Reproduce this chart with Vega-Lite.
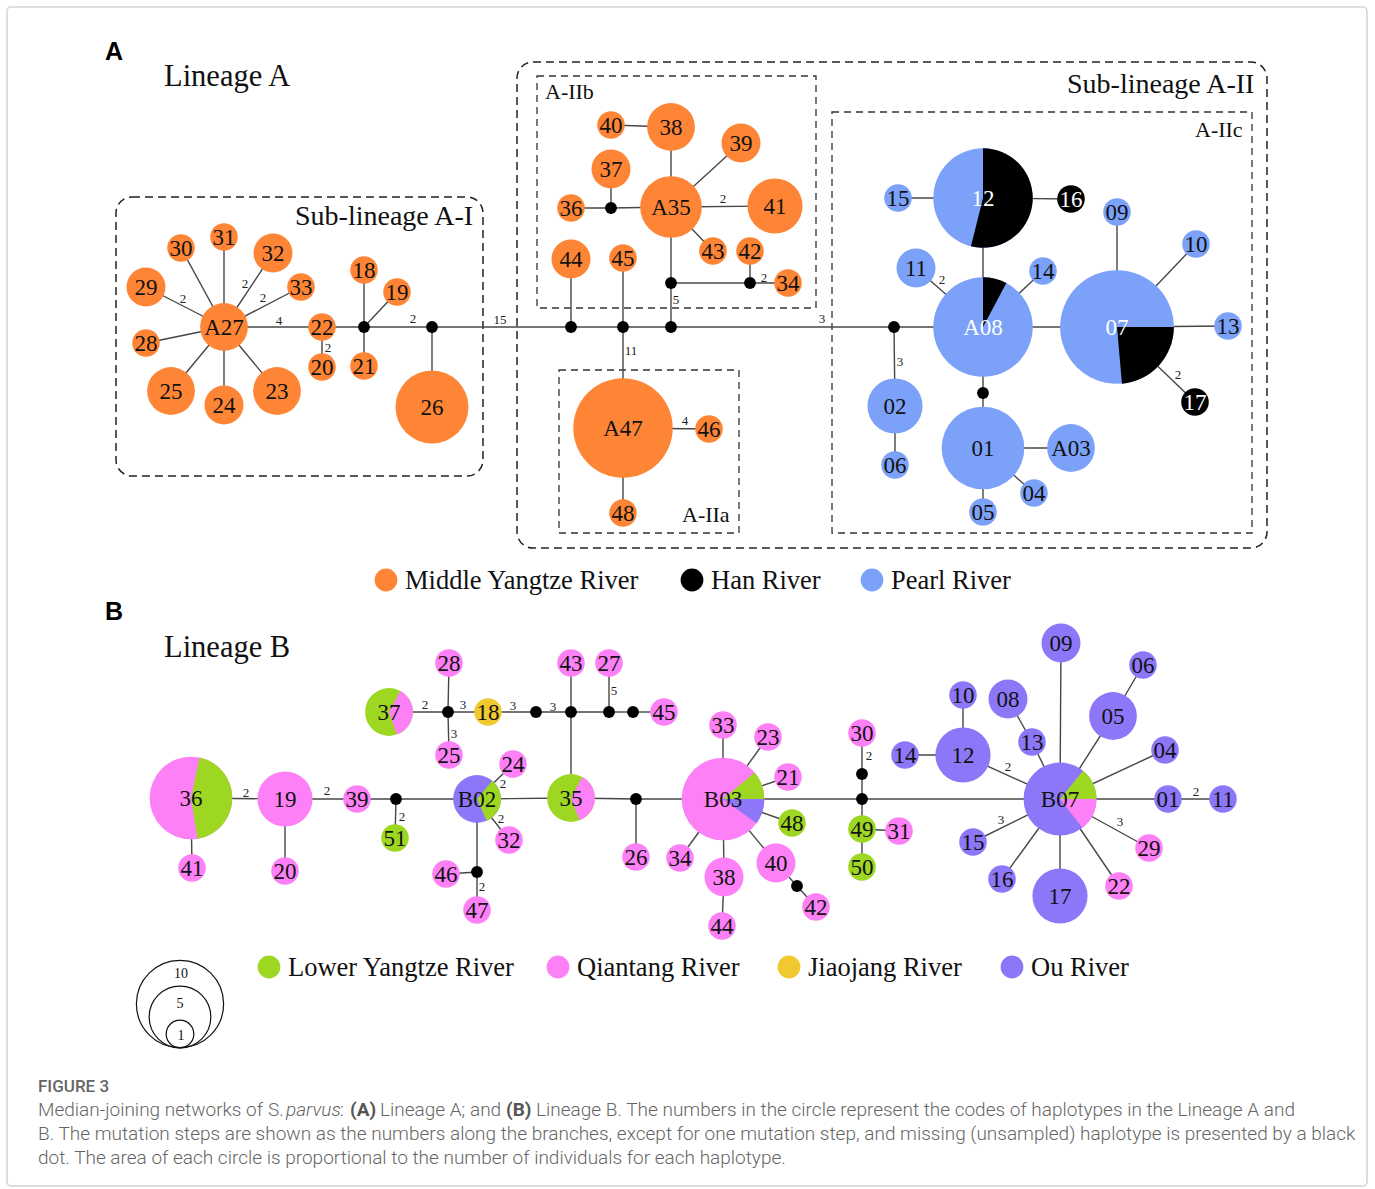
{
  "$schema": "https://vega.github.io/schema/vega-lite/v6.json",
  "width": 1375,
  "height": 1189,
  "padding": 0,
  "autosize": {"type": "fit", "contains": "padding"},
  "background": "white",
  "config": {"view": {"stroke": null}},
  "datasets": {
    "points": [
      {"id":"a27","label":"A27","x":224,"y":327,"n":3,"river":"Middle Yangtze River","kind":"hap"},
      {"id":"a31","label":"31","x":224,"y":237,"n":1,"river":"Middle Yangtze River","kind":"hap"},
      {"id":"a30","label":"30","x":181,"y":248,"n":1,"river":"Middle Yangtze River","kind":"hap"},
      {"id":"a32","label":"32","x":273,"y":253,"n":2,"river":"Middle Yangtze River","kind":"hap"},
      {"id":"a33","label":"33","x":301,"y":287,"n":1,"river":"Middle Yangtze River","kind":"hap"},
      {"id":"a29","label":"29","x":146,"y":287,"n":2,"river":"Middle Yangtze River","kind":"hap"},
      {"id":"a28","label":"28","x":146,"y":343,"n":1,"river":"Middle Yangtze River","kind":"hap"},
      {"id":"a25","label":"25","x":171,"y":391,"n":3,"river":"Middle Yangtze River","kind":"hap"},
      {"id":"a24","label":"24","x":224,"y":405,"n":2,"river":"Middle Yangtze River","kind":"hap"},
      {"id":"a23","label":"23","x":277,"y":391,"n":3,"river":"Middle Yangtze River","kind":"hap"},
      {"id":"a22","label":"22","x":322,"y":327,"n":1,"river":"Middle Yangtze River","kind":"hap"},
      {"id":"a20","label":"20","x":322,"y":367,"n":1,"river":"Middle Yangtze River","kind":"hap"},
      {"id":"a18","label":"18","x":364,"y":270,"n":1,"river":"Middle Yangtze River","kind":"hap"},
      {"id":"a19","label":"19","x":397,"y":292,"n":1,"river":"Middle Yangtze River","kind":"hap"},
      {"id":"a21","label":"21","x":364,"y":366,"n":1,"river":"Middle Yangtze River","kind":"hap"},
      {"id":"a26","label":"26","x":432,"y":407,"n":7,"river":"Middle Yangtze River","kind":"hap"},
      {"id":"a35","label":"A35","x":671,"y":207,"n":5,"river":"Middle Yangtze River","kind":"hap"},
      {"id":"a38","label":"38","x":671,"y":127,"n":3,"river":"Middle Yangtze River","kind":"hap"},
      {"id":"a40","label":"40","x":611,"y":125,"n":1,"river":"Middle Yangtze River","kind":"hap"},
      {"id":"a39","label":"39","x":741,"y":143,"n":2,"river":"Middle Yangtze River","kind":"hap"},
      {"id":"a37","label":"37","x":611,"y":169,"n":2,"river":"Middle Yangtze River","kind":"hap"},
      {"id":"a36","label":"36","x":571,"y":208,"n":1,"river":"Middle Yangtze River","kind":"hap"},
      {"id":"a41","label":"41","x":775,"y":206,"n":4,"river":"Middle Yangtze River","kind":"hap"},
      {"id":"a43","label":"43","x":713,"y":251,"n":1,"river":"Middle Yangtze River","kind":"hap"},
      {"id":"a42","label":"42","x":750,"y":251,"n":1,"river":"Middle Yangtze River","kind":"hap"},
      {"id":"a34","label":"34","x":788,"y":283,"n":1,"river":"Middle Yangtze River","kind":"hap"},
      {"id":"a44","label":"44","x":571,"y":259,"n":2,"river":"Middle Yangtze River","kind":"hap"},
      {"id":"a45","label":"45","x":623,"y":258,"n":1,"river":"Middle Yangtze River","kind":"hap"},
      {"id":"a47","label":"A47","x":623,"y":428,"n":13,"river":"Middle Yangtze River","kind":"hap"},
      {"id":"a46","label":"46","x":709,"y":429,"n":1,"river":"Middle Yangtze River","kind":"hap"},
      {"id":"a48","label":"48","x":623,"y":513,"n":1,"river":"Middle Yangtze River","kind":"hap"},
      {"id":"a12","label":"12","x":983,"y":198,"n":13,"river":"Pearl River","kind":"hap"},
      {"id":"a15","label":"15","x":898,"y":198,"n":1,"river":"Pearl River","kind":"hap"},
      {"id":"a16","label":"16","x":1071,"y":199,"n":1,"river":"Han River","kind":"hap"},
      {"id":"a08","label":"A08","x":983,"y":327,"n":13,"river":"Pearl River","kind":"hap"},
      {"id":"a11","label":"11","x":916,"y":268,"n":2,"river":"Pearl River","kind":"hap"},
      {"id":"a14","label":"14","x":1043,"y":271,"n":1,"river":"Pearl River","kind":"hap"},
      {"id":"a02","label":"02","x":895,"y":406,"n":4,"river":"Pearl River","kind":"hap"},
      {"id":"a06","label":"06","x":895,"y":465,"n":1,"river":"Pearl River","kind":"hap"},
      {"id":"a01","label":"01","x":983,"y":448,"n":9,"river":"Pearl River","kind":"hap"},
      {"id":"aA03","label":"A03","x":1071,"y":448,"n":3,"river":"Pearl River","kind":"hap"},
      {"id":"a04","label":"04","x":1034,"y":493,"n":1,"river":"Pearl River","kind":"hap"},
      {"id":"a05","label":"05","x":983,"y":512,"n":1,"river":"Pearl River","kind":"hap"},
      {"id":"a07","label":"07","x":1117,"y":327,"n":17,"river":"Pearl River","kind":"hap"},
      {"id":"a09","label":"09","x":1117,"y":212,"n":1,"river":"Pearl River","kind":"hap"},
      {"id":"a10","label":"10","x":1196,"y":244,"n":1,"river":"Pearl River","kind":"hap"},
      {"id":"a13","label":"13","x":1228,"y":326,"n":1,"river":"Pearl River","kind":"hap"},
      {"id":"a17","label":"17","x":1195,"y":402,"n":1,"river":"Han River","kind":"hap"},
      {"id":"am1","x":364,"y":327,"kind":"median"},
      {"id":"am2","x":432,"y":327,"kind":"median"},
      {"id":"am3","x":611,"y":208,"kind":"median"},
      {"id":"am4","x":671,"y":283,"kind":"median"},
      {"id":"am5","x":750,"y":283,"kind":"median"},
      {"id":"am6","x":571,"y":327,"kind":"median"},
      {"id":"am7","x":623,"y":327,"kind":"median"},
      {"id":"am8","x":671,"y":327,"kind":"median"},
      {"id":"am9","x":894,"y":327,"kind":"median"},
      {"id":"am10","x":983,"y":393,"kind":"median"},
      {"id":"b36","label":"36","x":191,"y":798,"n":9,"river":"Qiantang River","kind":"hap"},
      {"id":"b41","label":"41","x":192,"y":868,"n":1,"river":"Qiantang River","kind":"hap"},
      {"id":"b19","label":"19","x":285,"y":799,"n":4,"river":"Qiantang River","kind":"hap"},
      {"id":"b20","label":"20","x":285,"y":871,"n":1,"river":"Qiantang River","kind":"hap"},
      {"id":"b39","label":"39","x":357,"y":799,"n":1,"river":"Qiantang River","kind":"hap"},
      {"id":"b51","label":"51","x":395,"y":838,"n":1,"river":"Lower Yangtze River","kind":"hap"},
      {"id":"b37","label":"37","x":389,"y":712,"n":3,"river":"Lower Yangtze River","kind":"hap"},
      {"id":"b28","label":"28","x":449,"y":663,"n":1,"river":"Qiantang River","kind":"hap"},
      {"id":"b25","label":"25","x":449,"y":755,"n":1,"river":"Qiantang River","kind":"hap"},
      {"id":"b18","label":"18","x":488,"y":712,"n":1,"river":"Jiaojang River","kind":"hap"},
      {"id":"bB02","label":"B02","x":477,"y":799,"n":3,"river":"Ou River","kind":"hap"},
      {"id":"b24","label":"24","x":513,"y":764,"n":1,"river":"Qiantang River","kind":"hap"},
      {"id":"b32","label":"32","x":509,"y":840,"n":1,"river":"Qiantang River","kind":"hap"},
      {"id":"b46","label":"46","x":446,"y":874,"n":1,"river":"Qiantang River","kind":"hap"},
      {"id":"b47","label":"47","x":477,"y":910,"n":1,"river":"Qiantang River","kind":"hap"},
      {"id":"b35","label":"35","x":571,"y":798,"n":3,"river":"Lower Yangtze River","kind":"hap"},
      {"id":"b43","label":"43","x":571,"y":663,"n":1,"river":"Qiantang River","kind":"hap"},
      {"id":"b27","label":"27","x":609,"y":663,"n":1,"river":"Qiantang River","kind":"hap"},
      {"id":"b45","label":"45","x":664,"y":712,"n":1,"river":"Qiantang River","kind":"hap"},
      {"id":"b26","label":"26","x":636,"y":857,"n":1,"river":"Qiantang River","kind":"hap"},
      {"id":"bB03","label":"B03","x":723,"y":799,"n":9,"river":"Qiantang River","kind":"hap"},
      {"id":"b33","label":"33","x":723,"y":725,"n":1,"river":"Qiantang River","kind":"hap"},
      {"id":"b23","label":"23","x":768,"y":737,"n":1,"river":"Qiantang River","kind":"hap"},
      {"id":"b21","label":"21","x":788,"y":777,"n":1,"river":"Qiantang River","kind":"hap"},
      {"id":"b48","label":"48","x":792,"y":823,"n":1,"river":"Lower Yangtze River","kind":"hap"},
      {"id":"b40","label":"40","x":776,"y":863,"n":2,"river":"Qiantang River","kind":"hap"},
      {"id":"b42","label":"42","x":816,"y":907,"n":1,"river":"Qiantang River","kind":"hap"},
      {"id":"b38","label":"38","x":724,"y":877,"n":2,"river":"Qiantang River","kind":"hap"},
      {"id":"b44","label":"44","x":722,"y":926,"n":1,"river":"Qiantang River","kind":"hap"},
      {"id":"b34","label":"34","x":680,"y":858,"n":1,"river":"Qiantang River","kind":"hap"},
      {"id":"b30","label":"30","x":862,"y":733,"n":1,"river":"Qiantang River","kind":"hap"},
      {"id":"b49","label":"49","x":862,"y":829,"n":1,"river":"Lower Yangtze River","kind":"hap"},
      {"id":"b31","label":"31","x":899,"y":831,"n":1,"river":"Qiantang River","kind":"hap"},
      {"id":"b50","label":"50","x":862,"y":867,"n":1,"river":"Lower Yangtze River","kind":"hap"},
      {"id":"bB07","label":"B07","x":1060,"y":799,"n":7,"river":"Ou River","kind":"hap"},
      {"id":"b09","label":"09","x":1061,"y":643,"n":2,"river":"Ou River","kind":"hap"},
      {"id":"b06","label":"06","x":1143,"y":665,"n":1,"river":"Ou River","kind":"hap"},
      {"id":"b05","label":"05","x":1113,"y":716,"n":3,"river":"Ou River","kind":"hap"},
      {"id":"b04","label":"04","x":1165,"y":750,"n":1,"river":"Ou River","kind":"hap"},
      {"id":"b01","label":"01","x":1168,"y":799,"n":1,"river":"Ou River","kind":"hap"},
      {"id":"b11","label":"11","x":1223,"y":799,"n":1,"river":"Ou River","kind":"hap"},
      {"id":"b29","label":"29","x":1149,"y":848,"n":1,"river":"Qiantang River","kind":"hap"},
      {"id":"b22","label":"22","x":1119,"y":886,"n":1,"river":"Qiantang River","kind":"hap"},
      {"id":"b17","label":"17","x":1060,"y":896,"n":4,"river":"Ou River","kind":"hap"},
      {"id":"b16","label":"16","x":1002,"y":879,"n":1,"river":"Ou River","kind":"hap"},
      {"id":"b15","label":"15","x":973,"y":842,"n":1,"river":"Ou River","kind":"hap"},
      {"id":"b12","label":"12","x":963,"y":755,"n":4,"river":"Ou River","kind":"hap"},
      {"id":"b10","label":"10","x":963,"y":695,"n":1,"river":"Ou River","kind":"hap"},
      {"id":"b14","label":"14","x":905,"y":755,"n":1,"river":"Ou River","kind":"hap"},
      {"id":"b08","label":"08","x":1008,"y":699,"n":2,"river":"Ou River","kind":"hap"},
      {"id":"b13","label":"13","x":1032,"y":742,"n":1,"river":"Ou River","kind":"hap"},
      {"id":"bm1","x":448,"y":712,"kind":"median"},
      {"id":"bm2","x":536,"y":712,"kind":"median"},
      {"id":"bm3","x":396,"y":799,"kind":"median"},
      {"id":"bm4","x":477,"y":872,"kind":"median"},
      {"id":"bm5","x":571,"y":712,"kind":"median"},
      {"id":"bm6","x":609,"y":712,"kind":"median"},
      {"id":"bm7","x":633,"y":712,"kind":"median"},
      {"id":"bm8","x":636,"y":799,"kind":"median"},
      {"id":"bm9","x":797,"y":886,"kind":"median"},
      {"id":"bm10","x":862,"y":799,"kind":"median"},
      {"id":"bm11","x":862,"y":774,"kind":"median"}
    ],
    "edges": [
      {"from":"a27","to":"a31"},{"from":"a27","to":"a30"},{"from":"a27","to":"a32"},{"from":"a27","to":"a33"},
      {"from":"a27","to":"a29"},{"from":"a27","to":"a28"},{"from":"a27","to":"a25"},{"from":"a27","to":"a24"},
      {"from":"a27","to":"a23"},{"from":"a27","to":"a22"},{"from":"a22","to":"a20"},{"from":"a22","to":"am1"},
      {"from":"am1","to":"a18"},{"from":"am1","to":"a19"},{"from":"am1","to":"a21"},{"from":"am1","to":"am2"},
      {"from":"am2","to":"a26"},{"from":"am2","to":"am6"},{"from":"am6","to":"a44"},{"from":"am6","to":"am7"},
      {"from":"am7","to":"a45"},{"from":"am7","to":"a47"},{"from":"am7","to":"am8"},{"from":"am8","to":"am4"},
      {"from":"am4","to":"a35"},{"from":"am4","to":"am5"},{"from":"am5","to":"a42"},{"from":"am5","to":"a34"},
      {"from":"a35","to":"a38"},{"from":"a38","to":"a40"},{"from":"a35","to":"a39"},{"from":"a35","to":"am3"},
      {"from":"am3","to":"a37"},{"from":"am3","to":"a36"},{"from":"a35","to":"a41"},{"from":"a35","to":"a43"},
      {"from":"a47","to":"a46"},{"from":"a47","to":"a48"},{"from":"am8","to":"am9"},{"from":"am9","to":"a02"},
      {"from":"a02","to":"a06"},{"from":"am9","to":"a08"},{"from":"a08","to":"a12"},{"from":"a12","to":"a15"},
      {"from":"a12","to":"a16"},{"from":"a08","to":"a11"},{"from":"a08","to":"a14"},{"from":"a08","to":"am10"},
      {"from":"am10","to":"a01"},{"from":"a01","to":"aA03"},{"from":"a01","to":"a04"},{"from":"a01","to":"a05"},
      {"from":"a08","to":"a07"},{"from":"a07","to":"a09"},{"from":"a07","to":"a10"},{"from":"a07","to":"a13"},
      {"from":"a07","to":"a17"},
      {"from":"b36","to":"b41"},{"from":"b36","to":"b19"},{"from":"b19","to":"b20"},{"from":"b19","to":"b39"},
      {"from":"b39","to":"bm3"},{"from":"bm3","to":"b51"},{"from":"bm3","to":"bB02"},{"from":"bB02","to":"b24"},
      {"from":"bB02","to":"b32"},{"from":"bB02","to":"bm4"},{"from":"bm4","to":"b46"},{"from":"bm4","to":"b47"},
      {"from":"bB02","to":"b35"},{"from":"b35","to":"bm5"},{"from":"bm5","to":"b43"},{"from":"bm5","to":"bm2"},
      {"from":"bm2","to":"b18"},{"from":"b18","to":"bm1"},{"from":"bm1","to":"b37"},{"from":"bm1","to":"b28"},
      {"from":"bm1","to":"b25"},{"from":"bm5","to":"bm6"},{"from":"bm6","to":"b27"},{"from":"bm6","to":"bm7"},
      {"from":"bm7","to":"b45"},{"from":"b35","to":"bm8"},{"from":"bm8","to":"b26"},{"from":"bm8","to":"bB03"},
      {"from":"bB03","to":"b33"},{"from":"bB03","to":"b23"},{"from":"bB03","to":"b21"},{"from":"bB03","to":"b48"},
      {"from":"bB03","to":"b40"},{"from":"b40","to":"bm9"},{"from":"bm9","to":"b42"},{"from":"bB03","to":"b38"},
      {"from":"b38","to":"b44"},{"from":"bB03","to":"b34"},{"from":"bB03","to":"bm10"},{"from":"bm10","to":"bm11"},
      {"from":"bm11","to":"b30"},{"from":"bm10","to":"b49"},{"from":"b49","to":"b31"},{"from":"b49","to":"b50"},
      {"from":"bm10","to":"bB07"},{"from":"bB07","to":"b12"},{"from":"b12","to":"b10"},{"from":"b12","to":"b14"},
      {"from":"bB07","to":"b13"},{"from":"b13","to":"b08"},{"from":"bB07","to":"b09"},{"from":"bB07","to":"b05"},
      {"from":"b05","to":"b06"},{"from":"bB07","to":"b04"},{"from":"bB07","to":"b01"},{"from":"b01","to":"b11"},
      {"from":"bB07","to":"b29"},{"from":"bB07","to":"b22"},{"from":"bB07","to":"b17"},{"from":"bB07","to":"b16"},
      {"from":"bB07","to":"b15"}
    ],
    "slices": [
      {"node":"a12","river":"Han River","a0":0,"a1":194},
      {"node":"a08","river":"Han River","a0":0,"a1":28},
      {"node":"a07","river":"Han River","a0":90,"a1":175},
      {"node":"b36","river":"Lower Yangtze River","a0":12,"a1":171},
      {"node":"b37","river":"Qiantang River","a0":28,"a1":161},
      {"node":"bB02","river":"Lower Yangtze River","a0":40,"a1":156},
      {"node":"b35","river":"Qiantang River","a0":28,"a1":159},
      {"node":"bB03","river":"Lower Yangtze River","a0":50,"a1":90},
      {"node":"bB03","river":"Ou River","a0":90,"a1":126},
      {"node":"bB07","river":"Lower Yangtze River","a0":39,"a1":90},
      {"node":"bB07","river":"Qiantang River","a0":90,"a1":142}
    ],
    "steps": [
      {"x":279,"y":321,"text":"4"},{"x":245,"y":284,"text":"2"},{"x":263,"y":298,"text":"2"},{"x":183,"y":299,"text":"2"},
      {"x":328,"y":348,"text":"2"},{"x":413,"y":319,"text":"2"},{"x":500,"y":320,"text":"15"},{"x":723,"y":199,"text":"2"},
      {"x":764,"y":278,"text":"2"},{"x":676,"y":300,"text":"5"},{"x":631,"y":351,"text":"11"},{"x":685,"y":421,"text":"4"},
      {"x":822,"y":319,"text":"3"},{"x":942,"y":280,"text":"2"},{"x":900,"y":362,"text":"3"},{"x":1178,"y":375,"text":"2"},
      {"x":425,"y":705,"text":"2"},{"x":463,"y":705,"text":"3"},{"x":454,"y":734,"text":"3"},{"x":513,"y":706,"text":"3"},
      {"x":553,"y":707,"text":"3"},{"x":246,"y":793,"text":"2"},{"x":327,"y":791,"text":"2"},{"x":402,"y":817,"text":"2"},
      {"x":503,"y":784,"text":"2"},{"x":501,"y":819,"text":"2"},{"x":482,"y":887,"text":"2"},{"x":614,"y":691,"text":"5"},
      {"x":869,"y":756,"text":"2"},{"x":1008,"y":767,"text":"2"},{"x":1196,"y":792,"text":"2"},{"x":1001,"y":820,"text":"3"},
      {"x":1120,"y":822,"text":"3"}
    ],
    "legend": [
      {"river":"Middle Yangtze River","x":386,"y":580},
      {"river":"Han River","x":692,"y":580},
      {"river":"Pearl River","x":872,"y":580},
      {"river":"Lower Yangtze River","x":269,"y":967},
      {"river":"Qiantang River","x":558,"y":967},
      {"river":"Jiaojang River","x":789,"y":967},
      {"river":"Ou River","x":1012,"y":967}
    ]
  },
  "encoding": {
    "x": {"field": "x", "type": "quantitative", "scale": {"domain": [0, 1375], "nice": false, "zero": false}, "axis": null},
    "y": {"field": "y", "type": "quantitative", "scale": {"domain": [0, 1189], "nice": false, "zero": false, "reverse": true}, "axis": null}
  },
  "layer": [
    {
      "data": {"values": [{"x": 7, "x2": 1367, "y": 7, "y2": 1186}]},
      "mark": {"type": "rect", "fill": null, "stroke": "#d4d4d4", "strokeWidth": 1.5, "cornerRadius": 4},
      "encoding": {"x2": {"field": "x2"}, "y2": {"field": "y2"}}
    },
    {
      "data": {"values": [
        {"box": "Sub-lineage A-I", "x": 116, "x2": 483, "y": 197, "y2": 476},
        {"box": "Sub-lineage A-II", "x": 517, "x2": 1267, "y": 62, "y2": 548}
      ]},
      "mark": {"type": "rect", "fill": null, "stroke": "#222222", "strokeWidth": 1.5, "strokeDash": [8, 5], "cornerRadius": 16},
      "encoding": {"x2": {"field": "x2"}, "y2": {"field": "y2"}}
    },
    {
      "data": {"values": [
        {"box": "A-IIb", "x": 537, "x2": 816, "y": 76, "y2": 308},
        {"box": "A-IIa", "x": 559, "x2": 739, "y": 370, "y2": 533},
        {"box": "A-IIc", "x": 832, "x2": 1252, "y": 112, "y2": 533}
      ]},
      "mark": {"type": "rect", "fill": null, "stroke": "#333333", "strokeWidth": 1.3, "strokeDash": [7, 5]},
      "encoding": {"x2": {"field": "x2"}, "y2": {"field": "y2"}}
    },
    {
      "data": {"name": "edges"},
      "transform": [
        {"lookup": "from", "from": {"data": {"name": "points"}, "key": "id", "fields": ["x", "y"]}},
        {"lookup": "to", "from": {"data": {"name": "points"}, "key": "id", "fields": ["x", "y"]}, "as": ["x2", "y2"]}
      ],
      "mark": {"type": "rule", "color": "#474747", "strokeWidth": 1.4},
      "encoding": {"x2": {"field": "x2"}, "y2": {"field": "y2"}}
    },
    {
      "data": {"name": "points"},
      "transform": [{"filter": "datum.kind === 'median'"}],
      "mark": {"type": "circle", "color": "#000000", "opacity": 1, "size": 140}
    },
    {
      "data": {"name": "points"},
      "transform": [{"filter": "datum.kind === 'hap'"}],
      "mark": {"type": "circle", "opacity": 1},
      "encoding": {
        "size": {"field": "n", "type": "quantitative", "scale": {"type": "linear", "domain": [0, 17], "range": [0, 12927], "clamp": false}, "legend": null},
        "color": {"field": "river", "type": "nominal", "legend": null,
          "scale": {"domain": ["Middle Yangtze River", "Han River", "Pearl River", "Lower Yangtze River", "Qiantang River", "Jiaojang River", "Ou River"],
                    "range": ["#FD8535", "#000000", "#7BA2F8", "#9ED722", "#FD80F6", "#F0C930", "#8E76F9"]}}
      }
    },
    {
      "data": {"name": "slices"},
      "transform": [
        {"lookup": "node", "from": {"data": {"name": "points"}, "key": "id", "fields": ["x", "y", "n"]}}
      ],
      "mark": {"type": "arc"},
      "encoding": {
        "theta": {"field": "a0", "type": "quantitative", "stack": null, "scale": {"domain": [0, 360], "range": [0, 6.283185307]}},
        "theta2": {"field": "a1"},
        "radius": {"field": "n", "type": "quantitative", "scale": {"type": "sqrt", "domain": [0, 17], "range": [0, 56.85], "clamp": false}},
        "color": {"field": "river", "type": "nominal", "legend": null}
      }
    },
    {
      "data": {"name": "points"},
      "transform": [{"filter": "datum.kind === 'hap' && indexof(['a12','a08','a07','a16','a17'], datum.id) < 0"}],
      "mark": {"type": "text", "font": "Liberation Serif", "fontSize": 23, "color": "#111111", "baseline": "middle", "align": "center", "dy": 1},
      "encoding": {"text": {"field": "label"}}
    },
    {
      "data": {"name": "points"},
      "transform": [{"filter": "indexof(['a12','a08','a07','a16','a17'], datum.id) >= 0"}],
      "mark": {"type": "text", "font": "Liberation Serif", "fontSize": 23, "color": "#ffffff", "baseline": "middle", "align": "center", "dy": 1},
      "encoding": {"text": {"field": "label"}}
    },
    {
      "data": {"name": "steps"},
      "mark": {"type": "text", "font": "Liberation Serif", "fontSize": 13, "color": "#222222", "baseline": "middle", "align": "center"},
      "encoding": {"text": {"field": "text"}}
    },
    {
      "data": {"values": [
        {"text": "Lineage A", "x": 164, "y": 86},
        {"text": "Lineage B", "x": 164, "y": 657}
      ]},
      "mark": {"type": "text", "font": "Liberation Serif", "fontSize": 30.5, "color": "#111111", "align": "left", "baseline": "alphabetic"},
      "encoding": {"text": {"field": "text"}}
    },
    {
      "data": {"values": [
        {"text": "Sub-lineage A-I", "x": 295, "y": 225},
        {"text": "Sub-lineage A-II", "x": 1067, "y": 93}
      ]},
      "mark": {"type": "text", "font": "Liberation Serif", "fontSize": 28, "color": "#111111", "align": "left", "baseline": "alphabetic"},
      "encoding": {"text": {"field": "text"}}
    },
    {
      "data": {"values": [
        {"text": "A-IIb", "x": 545, "y": 99},
        {"text": "A-IIa", "x": 682, "y": 522},
        {"text": "A-IIc", "x": 1195, "y": 137}
      ]},
      "mark": {"type": "text", "font": "Liberation Serif", "fontSize": 22, "color": "#111111", "align": "left", "baseline": "alphabetic"},
      "encoding": {"text": {"field": "text"}}
    },
    {
      "data": {"values": [
        {"text": "A", "x": 105, "y": 60},
        {"text": "B", "x": 105, "y": 620}
      ]},
      "mark": {"type": "text", "font": "Liberation Sans", "fontSize": 25, "fontWeight": "bold", "color": "#000000", "align": "left", "baseline": "alphabetic"},
      "encoding": {"text": {"field": "text"}}
    },
    {
      "data": {"name": "legend"},
      "mark": {"type": "circle", "opacity": 1, "size": 520},
      "encoding": {"color": {"field": "river", "type": "nominal", "legend": null}}
    },
    {
      "data": {"name": "legend"},
      "mark": {"type": "text", "font": "Liberation Serif", "fontSize": 26.5, "color": "#111111", "align": "left", "baseline": "middle", "dx": 19, "dy": 1},
      "encoding": {"text": {"field": "river"}}
    },
    {
      "data": {"values": [
        {"n": 10, "x": 180, "y": 1004},
        {"n": 5, "x": 180, "y": 1017},
        {"n": 1, "x": 180, "y": 1034}
      ]},
      "mark": {"type": "point", "shape": "circle", "filled": false, "stroke": "#111111", "strokeWidth": 1.2, "opacity": 1},
      "encoding": {"size": {"field": "n", "type": "quantitative", "legend": null}}
    },
    {
      "data": {"values": [
        {"text": "10", "x": 181, "y": 974},
        {"text": "5", "x": 180, "y": 1004},
        {"text": "1", "x": 181, "y": 1036}
      ]},
      "mark": {"type": "text", "font": "Liberation Serif", "fontSize": 14, "color": "#111111", "align": "center", "baseline": "middle"},
      "encoding": {"text": {"field": "text"}}
    },
    {
      "data": {"values": [{"text": "FIGURE 3", "x": 38, "y": 1092}]},
      "mark": {"type": "text", "font": "Roboto", "fontSize": 17, "fontWeight": 500, "color": "#666666", "align": "left", "baseline": "alphabetic"},
      "encoding": {"text": {"field": "text"}}
    },
    {
      "data": {"values": [
        {"text": "Median-joining networks of", "x": 38, "y": 1116},
        {"text": "S.", "x": 268, "y": 1116},
        {"text": ":", "x": 340, "y": 1116},
        {"text": "Lineage A; and", "x": 380, "y": 1116},
        {"text": "Lineage B. The numbers in the circle represent the codes of haplotypes in the Lineage A and", "x": 536, "y": 1116},
        {"text": "B. The mutation steps are shown as the numbers along the branches, except for one mutation step, and missing (unsampled) haplotype is presented by a black", "x": 38, "y": 1140},
        {"text": "dot. The area of each circle is proportional to the number of individuals for each haplotype.", "x": 38, "y": 1164}
      ]},
      "mark": {"type": "text", "font": "Roboto", "fontSize": 19, "fontWeight": 300, "color": "#666666", "align": "left", "baseline": "alphabetic"},
      "encoding": {"text": {"field": "text"}}
    },
    {
      "data": {"values": [{"text": "parvus", "x": 286, "y": 1116}]},
      "mark": {"type": "text", "font": "Roboto", "fontSize": 19, "fontWeight": 300, "fontStyle": "italic", "color": "#666666", "align": "left", "baseline": "alphabetic"},
      "encoding": {"text": {"field": "text"}}
    },
    {
      "data": {"values": [
        {"text": "(A)", "x": 350, "y": 1116},
        {"text": "(B)", "x": 506, "y": 1116}
      ]},
      "mark": {"type": "text", "font": "Roboto", "fontSize": 19, "fontWeight": "bold", "color": "#555555", "align": "left", "baseline": "alphabetic"},
      "encoding": {"text": {"field": "text"}}
    }
  ]
}
